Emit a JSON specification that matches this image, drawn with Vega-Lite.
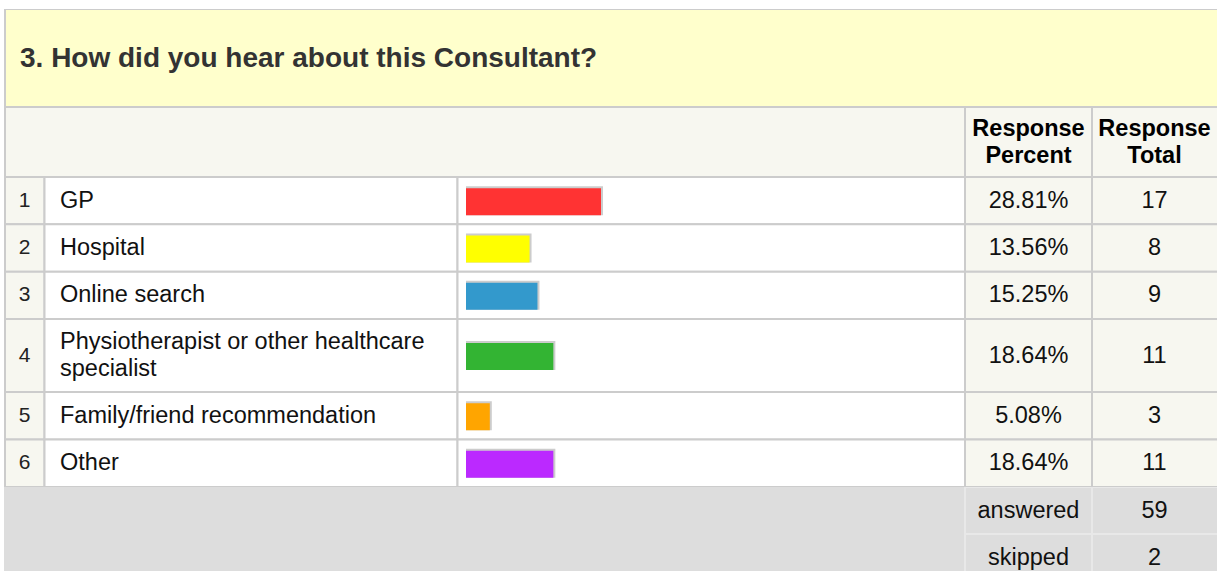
{
  "$schema": "https://vega.github.io/schema/vega-lite/v6.json",
  "background": "#FFFFFF",
  "padding": {"left": 4, "top": 9, "right": 0, "bottom": 0},
  "spacing": 0,
  "bounds": "flush",
  "datasets": {
    "rows": [
      {"n": 1, "answer": "GP", "pct": 0.2881, "total": 17},
      {"n": 2, "answer": "Hospital", "pct": 0.1356, "total": 8},
      {"n": 3, "answer": "Online search", "pct": 0.1525, "total": 9},
      {"n": 4, "answer": "Physiotherapist or other healthcare\nspecialist", "pct": 0.1864, "total": 11},
      {"n": 5, "answer": "Family/friend recommendation", "pct": 0.0508, "total": 3},
      {"n": 6, "answer": "Other", "pct": 0.1864, "total": 11}
    ],
    "footer": [
      {"label": "answered", "value": 59},
      {"label": "skipped", "value": 2}
    ]
  },
  "vconcat": [
    {
      "width": 1213, "height": 98,
      "data": {"values": [{}]},
      "layer": [
        {"mark": {"type": "rect", "fill": "#FFFFCC", "stroke": "#CCCCCC", "strokeWidth": 2, "clip": true},
         "encoding": {"x": {"datum": 1, "type": "quantitative", "scale": {"domain": [0, 1213], "nice": false, "zero": false}, "axis": null}, "x2": {"datum": 1216}}},
        {"mark": {"type": "text", "text": "3. How did you hear about this Consultant?", "fontSize": 28, "fontWeight": "bold", "fill": "#333333", "align": "left", "baseline": "middle", "dy": 1, "font": "Liberation Sans", "clip": true},
         "encoding": {"x": {"datum": 16, "type": "quantitative", "scale": {"domain": [0, 1213], "nice": false, "zero": false}, "axis": null}}}
      ]
    },
    {
      "width": 1213, "height": 70,
      "data": {"values": [{}]},
      "layer": [
        {"mark": {"type": "rect", "fill": "#F7F7F0", "stroke": "#CCCCCC", "strokeWidth": 2, "clip": true},
         "encoding": {"x": {"datum": 1, "type": "quantitative", "scale": {"domain": [0, 1213], "nice": false, "zero": false}, "axis": null}, "x2": {"datum": 1216}}},
        {"mark": {"type": "rect", "fill": "#F7F7F0", "stroke": "#CCCCCC", "strokeWidth": 2, "clip": true},
         "encoding": {"x": {"datum": 961, "type": "quantitative", "scale": {"domain": [0, 1213], "nice": false, "zero": false}, "axis": null}, "x2": {"datum": 1088}}},
        {"mark": {"type": "rect", "fill": "#F7F7F0", "stroke": "#CCCCCC", "strokeWidth": 2, "clip": true},
         "encoding": {"x": {"datum": 1088, "type": "quantitative", "scale": {"domain": [0, 1213], "nice": false, "zero": false}, "axis": null}, "x2": {"datum": 1216}}},
        {"mark": {"type": "text", "text": ["Response", "Percent"], "lineHeight": 27, "dy": -13, "fontSize": 23.5, "fontWeight": "bold", "fill": "#000000", "align": "center", "baseline": "middle", "font": "Liberation Sans", "clip": true},
         "encoding": {"x": {"datum": 1024.5, "type": "quantitative", "scale": {"domain": [0, 1213], "nice": false, "zero": false}, "axis": null}}},
        {"mark": {"type": "text", "text": ["Response", "Total"], "lineHeight": 27, "dy": -13, "fontSize": 23.5, "fontWeight": "bold", "fill": "#000000", "align": "center", "baseline": "middle", "font": "Liberation Sans", "clip": true},
         "encoding": {"x": {"datum": 1150.5, "type": "quantitative", "scale": {"domain": [0, 1213], "nice": false, "zero": false}, "axis": null}}}
      ]
    },
    {
      "width": 1213, "height": 142,
      "data": {"name": "rows"},
      "transform": [{"filter": "datum.n <= 3"}],
      "encoding": {"y": {"field": "n", "type": "ordinal", "axis": null, "scale": {"paddingInner": 0, "paddingOuter": 0}}},
      "layer": [
        {"layer": [
          {"mark": {"type": "rect", "fill": "#F7F7F0", "stroke": "#CCCCCC", "strokeWidth": 2, "clip": true},
           "encoding": {"x": {"datum": 1, "type": "quantitative", "scale": {"domain": [0, 1213], "nice": false, "zero": false}, "axis": null}, "x2": {"datum": 40.5}}},
          {"mark": {"type": "rect", "fill": "#FFFFFF", "stroke": "#CCCCCC", "strokeWidth": 2, "clip": true},
           "encoding": {"x": {"datum": 40.5, "type": "quantitative", "scale": {"domain": [0, 1213], "nice": false, "zero": false}, "axis": null}, "x2": {"datum": 453.5}}},
          {"mark": {"type": "rect", "fill": "#FFFFFF", "stroke": "#CCCCCC", "strokeWidth": 2, "clip": true},
           "encoding": {"x": {"datum": 453.5, "type": "quantitative", "scale": {"domain": [0, 1213], "nice": false, "zero": false}, "axis": null}, "x2": {"datum": 961}}},
          {"mark": {"type": "rect", "fill": "#F7F7F0", "stroke": "#CCCCCC", "strokeWidth": 2, "clip": true},
           "encoding": {"x": {"datum": 961, "type": "quantitative", "scale": {"domain": [0, 1213], "nice": false, "zero": false}, "axis": null}, "x2": {"datum": 1088}}},
          {"mark": {"type": "rect", "fill": "#F7F7F0", "stroke": "#CCCCCC", "strokeWidth": 2, "clip": true},
           "encoding": {"x": {"datum": 1088, "type": "quantitative", "scale": {"domain": [0, 1213], "nice": false, "zero": false}, "axis": null}, "x2": {"datum": 1216}}},
          {"mark": {"type": "text", "fontSize": 21, "fill": "#222222", "align": "center", "baseline": "middle", "font": "Liberation Sans", "clip": true},
           "encoding": {"x": {"datum": 20.5, "type": "quantitative", "scale": {"domain": [0, 1213], "nice": false, "zero": false}, "axis": null}, "text": {"field": "n", "type": "nominal"}}},
          {"mark": {"type": "text", "fontSize": 23.5, "fill": "#111111", "align": "left", "baseline": "middle", "lineBreak": "\n", "lineHeight": 27, "font": "Liberation Sans", "clip": true},
           "encoding": {"x": {"datum": 56, "type": "quantitative", "scale": {"domain": [0, 1213], "nice": false, "zero": false}, "axis": null}, "text": {"field": "answer", "type": "nominal"}}},
          {"mark": {"type": "text", "fontSize": 23.5, "fill": "#111111", "align": "center", "baseline": "middle", "font": "Liberation Sans", "clip": true},
           "encoding": {"x": {"datum": 1024.5, "type": "quantitative", "scale": {"domain": [0, 1213], "nice": false, "zero": false}, "axis": null}, "text": {"field": "pct", "type": "quantitative", "format": ".2%"}}},
          {"mark": {"type": "text", "fontSize": 23.5, "fill": "#111111", "align": "center", "baseline": "middle", "font": "Liberation Sans", "clip": true},
           "encoding": {"x": {"datum": 1150.5, "type": "quantitative", "scale": {"domain": [0, 1213], "nice": false, "zero": false}, "axis": null}, "text": {"field": "total", "type": "nominal"}}}
        ]},
        {"layer": [
          {"mark": {"type": "bar", "orient": "horizontal", "height": 29, "xOffset": 2, "fill": "#CCCCCC", "clip": true},
           "encoding": {"x": {"field": "pct", "type": "quantitative", "scale": {"domain": [0, 1], "range": [462, 930.6], "nice": false, "zero": false}, "axis": null}, "x2": {"datum": 0}}},
          {"mark": {"type": "bar", "orient": "horizontal", "height": 27, "yOffset": 1, "clip": true},
           "encoding": {"x": {"field": "pct", "type": "quantitative", "scale": {"domain": [0, 1], "range": [462, 930.6], "nice": false, "zero": false}, "axis": null}, "x2": {"datum": 0},
             "color": {"field": "n", "type": "nominal", "legend": null, "scale": {"domain": [1, 2, 3, 4, 5, 6], "range": ["#FF3333", "#FFFF00", "#3399CC", "#33B433", "#FFA500", "#BB29FF"]}}}}
        ]}
      ],
      "resolve": {"scale": {"x": "independent"}}
    },
    {
      "width": 1213, "height": 73,
      "data": {"name": "rows"},
      "transform": [{"filter": "datum.n == 4"}],
      "encoding": {"y": {"field": "n", "type": "ordinal", "axis": null, "scale": {"paddingInner": 0, "paddingOuter": 0}}},
      "layer": [
        {"layer": [
          {"mark": {"type": "rect", "fill": "#F7F7F0", "stroke": "#CCCCCC", "strokeWidth": 2, "clip": true},
           "encoding": {"x": {"datum": 1, "type": "quantitative", "scale": {"domain": [0, 1213], "nice": false, "zero": false}, "axis": null}, "x2": {"datum": 40.5}}},
          {"mark": {"type": "rect", "fill": "#FFFFFF", "stroke": "#CCCCCC", "strokeWidth": 2, "clip": true},
           "encoding": {"x": {"datum": 40.5, "type": "quantitative", "scale": {"domain": [0, 1213], "nice": false, "zero": false}, "axis": null}, "x2": {"datum": 453.5}}},
          {"mark": {"type": "rect", "fill": "#FFFFFF", "stroke": "#CCCCCC", "strokeWidth": 2, "clip": true},
           "encoding": {"x": {"datum": 453.5, "type": "quantitative", "scale": {"domain": [0, 1213], "nice": false, "zero": false}, "axis": null}, "x2": {"datum": 961}}},
          {"mark": {"type": "rect", "fill": "#F7F7F0", "stroke": "#CCCCCC", "strokeWidth": 2, "clip": true},
           "encoding": {"x": {"datum": 961, "type": "quantitative", "scale": {"domain": [0, 1213], "nice": false, "zero": false}, "axis": null}, "x2": {"datum": 1088}}},
          {"mark": {"type": "rect", "fill": "#F7F7F0", "stroke": "#CCCCCC", "strokeWidth": 2, "clip": true},
           "encoding": {"x": {"datum": 1088, "type": "quantitative", "scale": {"domain": [0, 1213], "nice": false, "zero": false}, "axis": null}, "x2": {"datum": 1216}}},
          {"mark": {"type": "text", "fontSize": 21, "fill": "#222222", "align": "center", "baseline": "middle", "font": "Liberation Sans", "clip": true},
           "encoding": {"x": {"datum": 20.5, "type": "quantitative", "scale": {"domain": [0, 1213], "nice": false, "zero": false}, "axis": null}, "text": {"field": "n", "type": "nominal"}}},
          {"mark": {"type": "text", "fontSize": 23.5, "fill": "#111111", "align": "left", "baseline": "middle", "lineBreak": "\n", "lineHeight": 27, "dy": -13.5, "font": "Liberation Sans", "clip": true},
           "encoding": {"x": {"datum": 56, "type": "quantitative", "scale": {"domain": [0, 1213], "nice": false, "zero": false}, "axis": null}, "text": {"field": "answer", "type": "nominal"}}},
          {"mark": {"type": "text", "fontSize": 23.5, "fill": "#111111", "align": "center", "baseline": "middle", "font": "Liberation Sans", "clip": true},
           "encoding": {"x": {"datum": 1024.5, "type": "quantitative", "scale": {"domain": [0, 1213], "nice": false, "zero": false}, "axis": null}, "text": {"field": "pct", "type": "quantitative", "format": ".2%"}}},
          {"mark": {"type": "text", "fontSize": 23.5, "fill": "#111111", "align": "center", "baseline": "middle", "font": "Liberation Sans", "clip": true},
           "encoding": {"x": {"datum": 1150.5, "type": "quantitative", "scale": {"domain": [0, 1213], "nice": false, "zero": false}, "axis": null}, "text": {"field": "total", "type": "nominal"}}}
        ]},
        {"layer": [
          {"mark": {"type": "bar", "orient": "horizontal", "height": 29, "xOffset": 2, "fill": "#CCCCCC", "clip": true},
           "encoding": {"x": {"field": "pct", "type": "quantitative", "scale": {"domain": [0, 1], "range": [462, 930.6], "nice": false, "zero": false}, "axis": null}, "x2": {"datum": 0}}},
          {"mark": {"type": "bar", "orient": "horizontal", "height": 27, "yOffset": 1, "clip": true},
           "encoding": {"x": {"field": "pct", "type": "quantitative", "scale": {"domain": [0, 1], "range": [462, 930.6], "nice": false, "zero": false}, "axis": null}, "x2": {"datum": 0},
             "color": {"field": "n", "type": "nominal", "legend": null, "scale": {"domain": [1, 2, 3, 4, 5, 6], "range": ["#FF3333", "#FFFF00", "#3399CC", "#33B433", "#FFA500", "#BB29FF"]}}}}
        ]}
      ],
      "resolve": {"scale": {"x": "independent"}}
    },
    {
      "width": 1213, "height": 95,
      "data": {"name": "rows"},
      "transform": [{"filter": "datum.n >= 5"}],
      "encoding": {"y": {"field": "n", "type": "ordinal", "axis": null, "scale": {"paddingInner": 0, "paddingOuter": 0}}},
      "layer": [
        {"layer": [
          {"mark": {"type": "rect", "fill": "#F7F7F0", "stroke": "#CCCCCC", "strokeWidth": 2, "clip": true},
           "encoding": {"x": {"datum": 1, "type": "quantitative", "scale": {"domain": [0, 1213], "nice": false, "zero": false}, "axis": null}, "x2": {"datum": 40.5}}},
          {"mark": {"type": "rect", "fill": "#FFFFFF", "stroke": "#CCCCCC", "strokeWidth": 2, "clip": true},
           "encoding": {"x": {"datum": 40.5, "type": "quantitative", "scale": {"domain": [0, 1213], "nice": false, "zero": false}, "axis": null}, "x2": {"datum": 453.5}}},
          {"mark": {"type": "rect", "fill": "#FFFFFF", "stroke": "#CCCCCC", "strokeWidth": 2, "clip": true},
           "encoding": {"x": {"datum": 453.5, "type": "quantitative", "scale": {"domain": [0, 1213], "nice": false, "zero": false}, "axis": null}, "x2": {"datum": 961}}},
          {"mark": {"type": "rect", "fill": "#F7F7F0", "stroke": "#CCCCCC", "strokeWidth": 2, "clip": true},
           "encoding": {"x": {"datum": 961, "type": "quantitative", "scale": {"domain": [0, 1213], "nice": false, "zero": false}, "axis": null}, "x2": {"datum": 1088}}},
          {"mark": {"type": "rect", "fill": "#F7F7F0", "stroke": "#CCCCCC", "strokeWidth": 2, "clip": true},
           "encoding": {"x": {"datum": 1088, "type": "quantitative", "scale": {"domain": [0, 1213], "nice": false, "zero": false}, "axis": null}, "x2": {"datum": 1216}}},
          {"mark": {"type": "text", "fontSize": 21, "fill": "#222222", "align": "center", "baseline": "middle", "font": "Liberation Sans", "clip": true},
           "encoding": {"x": {"datum": 20.5, "type": "quantitative", "scale": {"domain": [0, 1213], "nice": false, "zero": false}, "axis": null}, "text": {"field": "n", "type": "nominal"}}},
          {"mark": {"type": "text", "fontSize": 23.5, "fill": "#111111", "align": "left", "baseline": "middle", "lineBreak": "\n", "lineHeight": 27, "font": "Liberation Sans", "clip": true},
           "encoding": {"x": {"datum": 56, "type": "quantitative", "scale": {"domain": [0, 1213], "nice": false, "zero": false}, "axis": null}, "text": {"field": "answer", "type": "nominal"}}},
          {"mark": {"type": "text", "fontSize": 23.5, "fill": "#111111", "align": "center", "baseline": "middle", "font": "Liberation Sans", "clip": true},
           "encoding": {"x": {"datum": 1024.5, "type": "quantitative", "scale": {"domain": [0, 1213], "nice": false, "zero": false}, "axis": null}, "text": {"field": "pct", "type": "quantitative", "format": ".2%"}}},
          {"mark": {"type": "text", "fontSize": 23.5, "fill": "#111111", "align": "center", "baseline": "middle", "font": "Liberation Sans", "clip": true},
           "encoding": {"x": {"datum": 1150.5, "type": "quantitative", "scale": {"domain": [0, 1213], "nice": false, "zero": false}, "axis": null}, "text": {"field": "total", "type": "nominal"}}}
        ]},
        {"layer": [
          {"mark": {"type": "bar", "orient": "horizontal", "height": 29, "xOffset": 2, "fill": "#CCCCCC", "clip": true},
           "encoding": {"x": {"field": "pct", "type": "quantitative", "scale": {"domain": [0, 1], "range": [462, 930.6], "nice": false, "zero": false}, "axis": null}, "x2": {"datum": 0}}},
          {"mark": {"type": "bar", "orient": "horizontal", "height": 27, "yOffset": 1, "clip": true},
           "encoding": {"x": {"field": "pct", "type": "quantitative", "scale": {"domain": [0, 1], "range": [462, 930.6], "nice": false, "zero": false}, "axis": null}, "x2": {"datum": 0},
             "color": {"field": "n", "type": "nominal", "legend": null, "scale": {"domain": [1, 2, 3, 4, 5, 6], "range": ["#FF3333", "#FFFF00", "#3399CC", "#33B433", "#FFA500", "#BB29FF"]}}}}
        ]}
      ],
      "resolve": {"scale": {"x": "independent"}}
    },
    {
      "width": 1213, "height": 84,
      "data": {"name": "footer"},
      "layer": [
        {"mark": {"type": "rect", "fill": "#DDDDDD", "clip": true},
         "encoding": {"x": {"datum": 0, "type": "quantitative", "scale": {"domain": [0, 1213], "nice": false, "zero": false}, "axis": null}, "x2": {"datum": 1216}}},
        {"mark": {"type": "rect", "fill": "#DDDDDD", "stroke": "#E8E8E8", "strokeWidth": 2, "clip": true},
         "encoding": {"x": {"datum": 961, "type": "quantitative", "scale": {"domain": [0, 1213], "nice": false, "zero": false}, "axis": null}, "x2": {"datum": 1088},
           "y": {"field": "label", "type": "ordinal", "axis": null, "scale": {"domain": ["answered", "skipped"], "range": [0, 94], "paddingInner": 0, "paddingOuter": 0}}}},
        {"mark": {"type": "rect", "fill": "#DDDDDD", "stroke": "#E8E8E8", "strokeWidth": 2, "clip": true},
         "encoding": {"x": {"datum": 1088, "type": "quantitative", "scale": {"domain": [0, 1213], "nice": false, "zero": false}, "axis": null}, "x2": {"datum": 1216},
           "y": {"field": "label", "type": "ordinal", "axis": null, "scale": {"domain": ["answered", "skipped"], "range": [0, 94], "paddingInner": 0, "paddingOuter": 0}}}},
        {"mark": {"type": "text", "fontSize": 23.5, "fill": "#111111", "align": "center", "baseline": "middle", "font": "Liberation Sans", "clip": true},
         "encoding": {"x": {"datum": 1024.5, "type": "quantitative", "scale": {"domain": [0, 1213], "nice": false, "zero": false}, "axis": null},
           "y": {"field": "label", "type": "ordinal", "axis": null, "scale": {"domain": ["answered", "skipped"], "range": [0, 94], "paddingInner": 0, "paddingOuter": 0}},
           "text": {"field": "label", "type": "nominal"}}},
        {"mark": {"type": "text", "fontSize": 23.5, "fill": "#111111", "align": "center", "baseline": "middle", "font": "Liberation Sans", "clip": true},
         "encoding": {"x": {"datum": 1150.5, "type": "quantitative", "scale": {"domain": [0, 1213], "nice": false, "zero": false}, "axis": null},
           "y": {"field": "label", "type": "ordinal", "axis": null, "scale": {"domain": ["answered", "skipped"], "range": [0, 94], "paddingInner": 0, "paddingOuter": 0}},
           "text": {"field": "value", "type": "nominal"}}}
      ]
    }
  ],
  "config": {
    "view": {"stroke": null},
    "axis": {"disable": true},
    "font": "Liberation Sans"
  }
}
